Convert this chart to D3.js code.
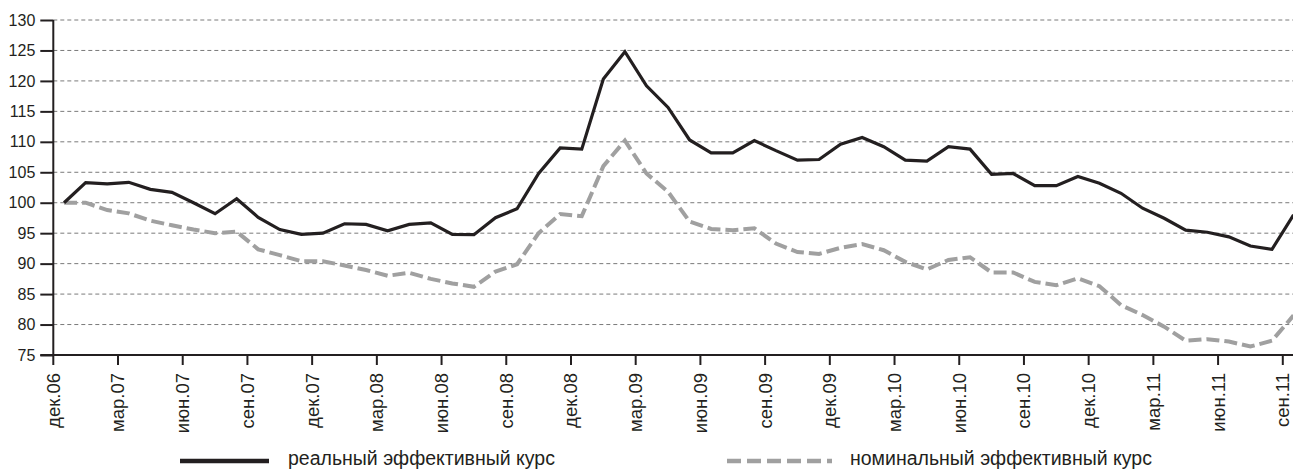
<!DOCTYPE html>
<html>
<head>
<meta charset="utf-8">
<script src="https://cdn.jsdelivr.net/npm/d3@7"></script>
<style>
  body { margin: 0; background: #fff; }
  svg { display: block; font-family: "Liberation Sans", Arial, sans-serif; }
</style>
</head>
<body>
<div class="chart"></div>
<script>
var months = [
  'дек.06', 'янв.07', 'фев.07', 'мар.07', 'апр.07', 'май.07', 'июн.07', 'июл.07', 'авг.07', 'сен.07', 'окт.07', 'ноя.07',
  'дек.07', 'янв.08', 'фев.08', 'мар.08', 'апр.08', 'май.08', 'июн.08', 'июл.08', 'авг.08', 'сен.08', 'окт.08', 'ноя.08',
  'дек.08', 'янв.09', 'фев.09', 'мар.09', 'апр.09', 'май.09', 'июн.09', 'июл.09', 'авг.09', 'сен.09', 'окт.09', 'ноя.09',
  'дек.09', 'янв.10', 'фев.10', 'мар.10', 'апр.10', 'май.10', 'июн.10', 'июл.10', 'авг.10', 'сен.10', 'окт.10', 'ноя.10',
  'дек.10', 'янв.11', 'фев.11', 'мар.11', 'апр.11', 'май.11', 'июн.11', 'июл.11', 'авг.11', 'сен.11'
];

var tickLabels = ['дек.06', 'мар.07', 'июн.07', 'сен.07', 'дек.07', 'мар.08', 'июн.08', 'сен.08', 'дек.08', 'мар.09',
  'июн.09', 'сен.09', 'дек.09', 'мар.10', 'июн.10', 'сен.10', 'дек.10', 'мар.11', 'июн.11', 'сен.11'];

var yTicks = [75, 80, 85, 90, 95, 100, 105, 110, 115, 120, 125, 130];

// реальный эффективный курс
var realRate = [
  100.0, 103.3, 103.1, 103.35, 102.2, 101.7, 100.0, 98.2, 100.65, 97.6, 95.6, 94.8,
  95.0, 96.55, 96.45, 95.4, 96.45, 96.7, 94.8, 94.75, 97.55, 99.0, 104.8, 109.0,
  108.8, 120.3, 124.8, 119.2, 115.65, 110.3, 108.2, 108.2, 110.2, 108.55, 107.0, 107.1,
  109.6, 110.7, 109.2, 107.0, 106.85, 109.2, 108.8, 104.65, 104.8, 102.8, 102.8, 104.3,
  103.2, 101.55, 99.1, 97.45, 95.5, 95.15, 94.4, 92.9, 92.35, 98.0
];

// номинальный эффективный курс
var nominalRate = [
  100.0, 100.0, 98.8, 98.25, 97.05, 96.3, 95.6, 95.0, 95.25, 92.35, 91.4, 90.4,
  90.4, 89.7, 88.95, 88.0, 88.5, 87.5, 86.75, 86.2, 88.7, 89.9, 95.0, 98.15,
  97.8, 106.0, 110.2, 104.8, 101.8, 96.9, 95.7, 95.5, 95.8, 93.3, 91.9, 91.6,
  92.6, 93.2, 92.2, 90.3, 89.05, 90.6, 91.05, 88.55, 88.55, 87.0, 86.45, 87.6,
  86.3, 83.2, 81.55, 79.65, 77.35, 77.6, 77.2, 76.4, 77.35, 81.5
];

var seriesNames = ['реальный эффективный курс', 'номинальный эффективный курс'];

var width = 1293, height = 470;
var plot = {left: 53.3, top: 20, bottom: 355, step: 21.57};
var ink = '#231f20';

var x = d3.scaleBand()
  .domain(months)
  .range([plot.left, plot.left + months.length * plot.step]);

var y = d3.scaleLinear()
  .domain([75, 130])
  .range([plot.bottom, plot.top]);

var line = d3.line()
  .x((d, i) => x(months[i]) + x.bandwidth() / 2)
  .y(d => y(d));

var svg = d3.select('.chart').append('svg')
  .attr('width', width)
  .attr('height', height);

// grid
svg.append('g')
  .selectAll('line')
  .data(yTicks.filter(v => v > 75))
  .enter().append('line')
    .attr('x1', plot.left)
    .attr('x2', width)
    .attr('y1', d => y(d))
    .attr('y2', d => y(d))
    .attr('stroke', '#7a7a7a')
    .attr('stroke-width', 1)
    .attr('stroke-dasharray', '4,3');

// y axis
var yAxis = d3.axisLeft(y)
  .tickValues(yTicks)
  .tickSize(13)
  .tickPadding(5);

var gY = svg.append('g')
  .attr('transform', `translate(${plot.left}, 0)`)
  .call(yAxis);
gY.select('.domain').remove();
gY.append('line')
  .attr('y1', plot.top).attr('y2', plot.bottom)
  .attr('stroke', ink).attr('stroke-width', 2);
gY.selectAll('.tick line').attr('stroke', ink).attr('stroke-width', 2);
gY.selectAll('.tick text')
  .attr('fill', ink)
  .attr('font-size', 16)
  .attr('font-family', '"Liberation Sans", Arial, sans-serif');

// x axis
var xAxis = d3.axisBottom(x)
  .tickValues(tickLabels)
  .tickSize(10)
  .tickPadding(8);

var gX = svg.append('g')
  .attr('transform', `translate(0, ${plot.bottom})`)
  .call(xAxis);
gX.select('.domain').remove();
gX.append('line')
  .attr('x1', plot.left - 13).attr('x2', width)
  .attr('stroke', ink).attr('stroke-width', 2);
// ticks sit on the band edges, not centres
gX.selectAll('.tick').attr('transform', d => `translate(${x(d)}, 0)`);
gX.selectAll('.tick line').attr('stroke', ink).attr('stroke-width', 2);
gX.selectAll('.tick text')
  .attr('fill', ink)
  .attr('font-size', 18.5)
  .attr('font-family', '"Liberation Sans", Arial, sans-serif')
  .attr('text-anchor', 'end')
  .attr('dy', '0.35em')
  .attr('transform', 'translate(0, 8) rotate(-90)')
  .attr('x', -10)
  .attr('y', 0);

// series
svg.append('path')
  .datum(nominalRate)
  .attr('d', line)
  .attr('fill', 'none')
  .attr('stroke', '#a0a0a0')
  .attr('stroke-width', 4)
  .attr('stroke-dasharray', '13,5');

svg.append('path')
  .datum(realRate)
  .attr('d', line)
  .attr('fill', 'none')
  .attr('stroke', ink)
  .attr('stroke-width', 3.2)
  .attr('stroke-linejoin', 'miter');

// legend
var legend = svg.append('g').attr('class', 'legend');
var legendItems = [
  {name: seriesNames[0], x1: 180, x2: 269, tx: 288, color: ink, w: 4.5, dash: null},
  {name: seriesNames[1], x1: 727, x2: 832, tx: 850, color: '#a0a0a0', w: 4.5, dash: '14,6'}
];
legendItems.forEach(function(d) {
  legend.append('line')
    .attr('x1', d.x1).attr('x2', d.x2)
    .attr('y1', 461).attr('y2', 461)
    .attr('stroke', d.color)
    .attr('stroke-width', d.w)
    .attr('stroke-dasharray', d.dash);
  legend.append('text')
    .attr('x', d.tx)
    .attr('y', 465)
    .attr('fill', ink)
    .attr('font-size', 19.5)
    .text(d.name);
});
</script>
</body>
</html>
